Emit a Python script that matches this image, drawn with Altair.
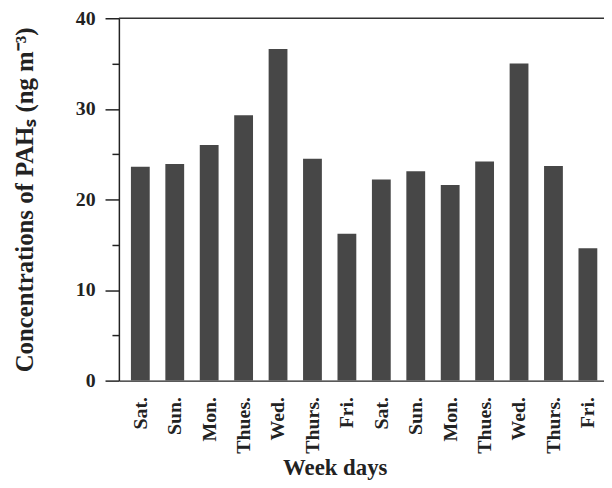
import json
import altair as alt
import pandas as pd

days = ["Sat.", "Sun.", "Mon.", "Thues.", "Wed.", "Thurs.", "Fri.",
        "Sat.", "Sun.", "Mon.", "Thues.", "Wed.", "Thurs.", "Fri."]
values = [23.6, 23.9, 26.0, 29.3, 36.6, 24.5, 16.2,
          22.2, 23.1, 21.6, 24.2, 35.0, 23.7, 14.6]
y_ticks = [0, 5, 10, 15, 20, 25, 30, 35, 40]

df = pd.DataFrame({"idx": list(range(len(days))), "day": days, "value": values})

W, H = 490, 366
FONT = "Liberation Serif"
INK = "#222222"

x_label_expr = json.dumps(days) + "[datum.value]"

bars = alt.Chart(df).mark_bar(color="#474747", size=19).encode(
    x=alt.X(
        "idx:Q",
        scale=alt.Scale(domain=[-0.479, 13.324], nice=False, zero=False),
        axis=alt.Axis(
            values=list(range(len(days))),
            labelExpr=x_label_expr,
            labelAngle=270,
            labelAlign="right",
            labelBaseline="middle",
            labelPadding=16,
            labelFont=FONT,
            labelFontWeight="bold",
            labelFontSize=20,
            labelColor=INK,
            ticks=False,
            grid=False,
            domainColor=INK,
            domainWidth=1.5,
            title="Week days",
            titleFont=FONT,
            titleFontWeight="bold",
            titleFontSize=23,
            titleColor=INK,
            titleX=218,
            titleY=95,
            titleAlign="center",
            titleBaseline="alphabetic",
            labelOverlap=False,
        ),
    ),
    y=alt.Y(
        "value:Q",
        scale=alt.Scale(domain=[0, 40], nice=False),
        axis=alt.Axis(
            values=y_ticks,
            labelExpr="datum.value % 10 === 0 ? datum.label : ''",
            tickSize={"condition": {"test": "datum.value % 10 === 0", "value": 14}, "value": 7},
            tickColor=INK,
            tickWidth=1.5,
            labelPadding=10,
            labelFont=FONT,
            labelFontWeight="bold",
            labelFontSize=20,
            labelColor=INK,
            grid=False,
            domainColor=INK,
            domainWidth=1.5,
            title="Concentrations of PAHₛ (ng m⁻³)",
            titleFont=FONT,
            titleFontWeight="bold",
            titleFontSize=25,
            titleColor=INK,
            titleAngle=270,
            titleX=-87,
            titleY=183,
            titleAlign="center",
            titleBaseline="alphabetic",
            labelOverlap=False,
        ),
    ),
)

top_line = alt.Chart(pd.DataFrame({"a": [0]})).mark_rule(color="#333333", strokeWidth=1.5).encode(
    x=alt.value(0), x2=alt.value(W), y=alt.value(0)
)

chart = alt.layer(bars, top_line).properties(
    width=W,
    height=H,
    padding={"left": 112, "top": 8, "right": 0, "bottom": 98},
    autosize=alt.AutoSizeParams(type="none"),
    background="white",
).configure_view(stroke=None)

chart.save("out.html", embed_options={"renderer": "svg", "actions": False})
